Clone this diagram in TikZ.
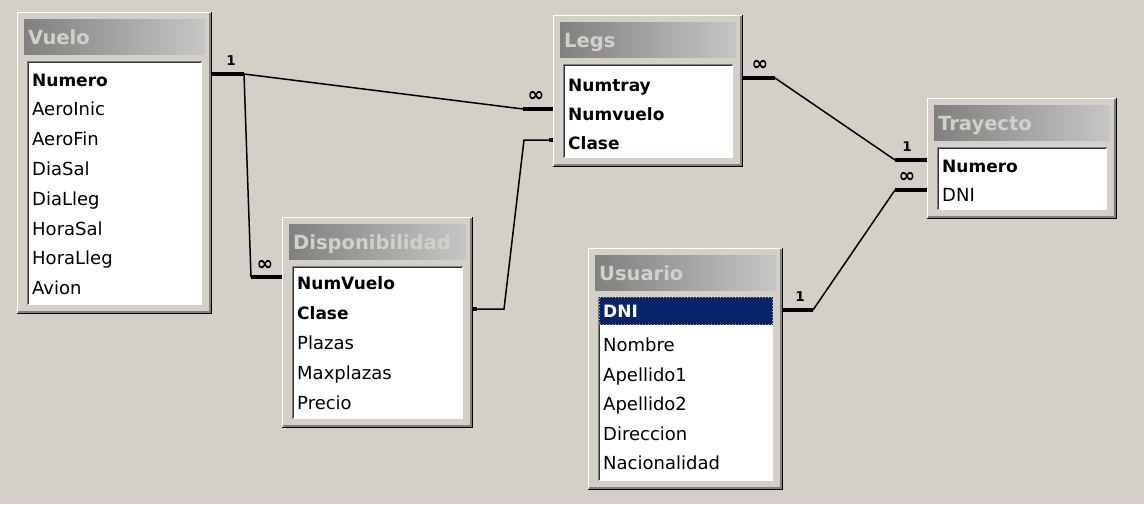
\documentclass[tikz,border=0pt]{standalone}
\usepackage{fontspec}
\setmainfont{DejaVu Sans}
\usetikzlibrary{positioning,calc}

\definecolor{fondo}{HTML}{D4D0C8}
\definecolor{titizq}{HTML}{808080}
\definecolor{titder}{HTML}{C6C6C6}
\definecolor{gris}{HTML}{808080}
\definecolor{azul}{HTML}{0A246A}
\definecolor{foco}{HTML}{C8B464}

\tikzset{
  marco/.style={fill=fondo, inner sep=0, outer sep=0},
  titulo/.style={text=fondo, font=\bfseries\fontsize{19.5}{19.5}\selectfont, inner sep=0, anchor=base west},
  campo/.style={font=\fontsize{18}{18}\selectfont, inner sep=0, anchor=base west},
  rel/.style={line width=1.5pt},
  tope/.style={line width=4pt},
  uno/.style={font=\bfseries\fontsize{13.5}{13.5}\selectfont, inner sep=0},
  muchos/.style={font=\bfseries\fontsize{20}{20}\selectfont, inner sep=0},
  punto/.style={fill, minimum size=4pt, inner sep=0},
}

% #1 tabla, #2-#5 marco, #6 primera fila, #7 paso, #8 campos, #9 claves
\newcommand{\tabla}[9]{
  \node[marco, anchor=north west, minimum width={(#4-#2)*1pt}, minimum height={(#5-#3)*1pt}] (#1) at (#2,#3) {};
  \draw[white, line width=1pt] (#2+0.5,#5) -- (#2+0.5,#3+0.5) -- (#4,#3+0.5);
  \draw[black, line width=1pt] (#2,#5-0.5) -- (#4-0.5,#5-0.5) -- (#4-0.5,#3);
  \draw[gris, line width=1.5pt] (#2+1,#5-2) -- (#4-2,#5-2) -- (#4-2,#3+1);
  \shade[left color=titizq, right color=titder] (#2+7,#3+7) rectangle (#4-7,#3+42);
  \node[titulo] (#1-titulo) at (#2+11,#3+32) {#1};
  \fill[white] (#2+10,#3+49) rectangle (#4-10,#5-9);
  \draw[gris, line width=1pt] (#2+10.5,#5-9) -- (#2+10.5,#3+49.5) -- (#4-10,#3+49.5);
  \draw[black!80, line width=1pt] (#2+11.5,#5-10) -- (#2+11.5,#3+50.5) -- (#4-11,#3+50.5);
  \foreach \c [count=\i] in {#8} {
    \ifnum\i>#9\relax \def\negrita{}\else\def\negrita{\bfseries\fontsize{17}{17}\selectfont}\fi
    \node[campo] (#1-\c) at (#2+15,{#6+6.5+(\i-1)*#7}) {\negrita\c};
  }
}

\begin{document}
\begin{tikzpicture}[x=1pt,y=-1pt]
\fill[fondo] (0,0) rectangle (1144,504);
\useasboundingbox (0,0) rectangle (1144,504);

% tablas
\tabla{Vuelo}{17}{12}{212}{314}{79.5}{29.8}{Numero,AeroInic,AeroFin,DiaSal,DiaLleg,HoraSal,HoraLleg,Avion}{1}
\tabla{Legs}{553}{15}{743}{167}{85}{29}{Numtray,Numvuelo,Clase}{3}
\tabla{Trayecto}{927}{98}{1117}{219}{166}{29}{Numero,DNI}{1}
\tabla{Disponibilidad}{282}{217}{473}{428}{283}{30}{NumVuelo,Clase,Plazas,Maxplazas,Precio}{2}
\tabla{Usuario}{588}{248}{783}{490}{345}{29.6}{Nombre,Apellido1,Apellido2,Direccion,Nacionalidad}{0}

% fila seleccionada
\fill[azul] (599,297) rectangle (773,325);
\draw[foco, dotted, line width=1pt] (599.5,297.5) rectangle (772.5,324.5);
\node[campo, text=white, font=\bfseries\fontsize{17}{17}\selectfont] (Usuario-DNI) at (603,317.5) {DNI};

% Vuelo - Legs
\coordinate (v1) at (244,74);
\coordinate (l1) at (523,109);
\draw[tope] (Vuelo.east |- v1) -- (v1);
\draw[rel] (v1) -- (l1);
\draw[tope] (l1) -- (Legs.west |- l1);
\node[uno] (c1) at (231,61) {1};
\node[muchos] (c2) at (536,96) {∞};

% Vuelo - Disponibilidad
\coordinate (d1) at (251,277);
\draw[rel] (v1) -- (d1);
\draw[tope] (d1) -- (Disponibilidad.west |- d1);
\node[muchos] (c3) at (265,265) {∞};

% Disponibilidad - Legs
\coordinate (d2) at (504,309);
\coordinate (l2) at (524,140);
\node[punto, anchor=west] (p1) at (Disponibilidad.east |- d2) {};
\node[punto, anchor=east] (p2) at (Legs.west |- l2) {};
\draw[rel] (p1.center) -- (d2) -- (l2) -- (p2.center);

% Legs - Trayecto
\coordinate (l3) at (775,78);
\coordinate (t1) at (895,160);
\draw[tope] (Legs.east |- l3) -- (l3);
\draw[rel] (l3) -- (t1);
\draw[tope] (t1) -- (Trayecto.west |- t1);
\node[muchos] (c4) at (760,65) {∞};
\node[uno] (c5) at (907,147) {1};

% Usuario - Trayecto
\coordinate (u1) at (813,310);
\coordinate (t2) at (895,190);
\draw[tope] (Usuario.east |- u1) -- (u1);
\draw[rel] (u1) -- (t2);
\draw[tope] (t2) -- (Trayecto.west |- t2);
\node[uno] (c6) at (800,297) {1};
\node[muchos] (c7) at (907,177) {∞};
\end{tikzpicture}
\end{document}
